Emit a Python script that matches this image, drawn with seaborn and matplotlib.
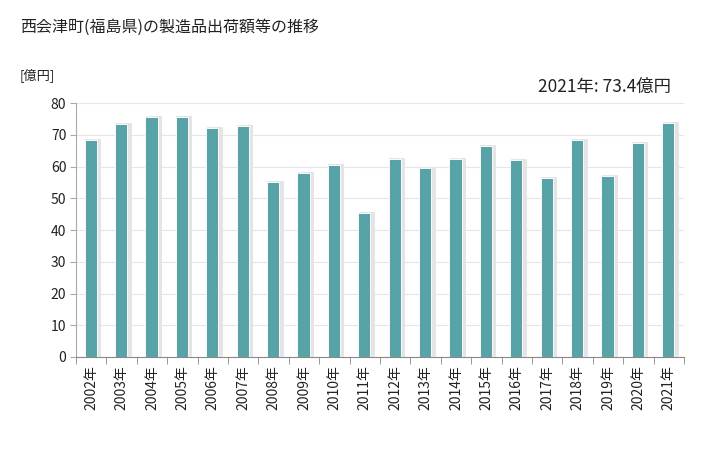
import matplotlib
matplotlib.use("Agg")
import matplotlib.pyplot as plt
import matplotlib.patheffects as pe
import seaborn as sns
import pandas as pd
import numpy as np

years = ["2002年", "2003年", "2004年", "2005年", "2006年", "2007年", "2008年", "2009年", "2010年", "2011年",
         "2012年", "2013年", "2014年", "2015年", "2016年", "2017年", "2018年", "2019年", "2020年", "2021年"]
values = [68.1, 73.2, 75.4, 75.4, 71.7, 72.6, 54.7, 57.8, 60.3, 44.9,
          62.0, 59.3, 62.2, 66.0, 61.6, 56.0, 68.2, 56.6, 67.2, 73.4]
yticks = [0, 10, 20, 30, 40, 50, 60, 70, 80]

sns.set_style("white")
plt.rcParams['font.family'] = ['Noto Sans CJK JP', 'DejaVu Sans']

df = pd.DataFrame({"year": years, "value": values})

fig = plt.figure(figsize=(7.28, 4.5), dpi=100)
ax = fig.add_axes([0.1044, 0.2067, 0.8352, 0.5643])

sns.barplot(data=df, x="year", y="value", color="#58A3A8", saturation=1, width=0.37, ax=ax, zorder=3)
for p in ax.patches:
    p.set_edgecolor("none")
    p.set_path_effects([
        pe.Stroke(linewidth=3.5, foreground="#e4e4e4", offset=(1, 0)),
        pe.Stroke(linewidth=1.5, foreground="#f8f8f8"),
        pe.Normal(),
    ])

ax.set_xlim(-0.5, len(years) - 0.5)
ax.set_ylim(0, 80)
ax.set_yticks(yticks)
ax.yaxis.grid(True, color="#e6e6e6", linewidth=0.8, zorder=0)
ax.set_axisbelow(True)
ax.set_xlabel("")
ax.set_ylabel("")

for s in ["top", "right"]:
    ax.spines[s].set_visible(False)
ax.spines["left"].set_color("#aaaaaa")
ax.spines["bottom"].set_color("#888888")

ax.tick_params(axis="y", length=4, color="#aaaaaa", labelsize=10, pad=3, left=True)
ax.tick_params(axis="x", which="major", length=0, labelsize=10, pad=6, rotation=90, bottom=True)
ax.set_xticks(np.arange(-0.5, len(years), 1.0), minor=True)
ax.tick_params(axis="x", which="minor", length=5, color="#888888", bottom=True)
for lbl in ax.get_xticklabels():
    lbl.set_color("#222222")
for lbl in ax.get_yticklabels():
    lbl.set_color("#222222")

fig.text(0.027, 0.94, "西会津町(福島県)の製造品出荷額等の推移", fontsize=11.5, color="#222222", va="center")
fig.text(0.027, 0.832, "[億円]", fontsize=9.5, color="#222222", va="center")
fig.text(0.922, 0.807, "2021年: 73.4億円", fontsize=12.5, color="#222222", va="center", ha="right")

fig.savefig("out.png", dpi=100, facecolor="white")
